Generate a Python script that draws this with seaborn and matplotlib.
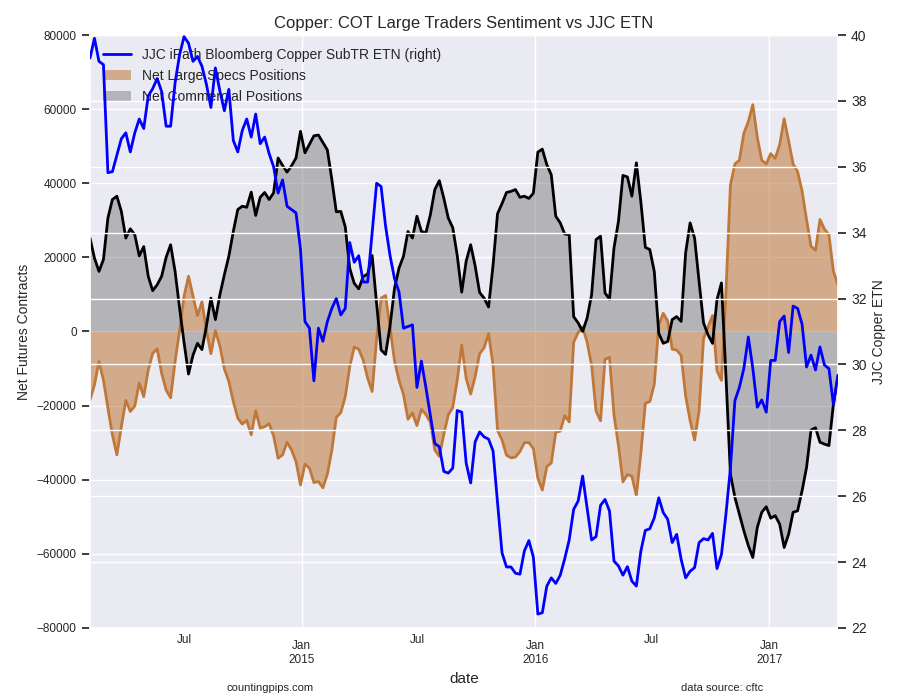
import pandas as pd
import numpy as np
import seaborn as sns
import matplotlib.pyplot as plt
import matplotlib.dates as mdates

# weekly COT reports (tuesdays)
dates = pd.date_range('2014-02-04', periods=168, freq='7D')

# net large speculator positions
specs = [
    -18500, -14400, -8100, -13100, -20700, -27900, -33300, -25700, -18600, -21600,
    -20100, -13900, -17600, -10400, -5900, -4700, -11300, -15800, -17900, -8100,
    200, 9500, 14900, 9500, 4300, 8000, 200, -6000, 200, -3900,
    -10100, -13500, -18900, -23400, -25000, -24000, -27900, -21400, -26100, -25700,
    -24900, -28200, -34200, -33300, -29900, -32000, -35100, -41400, -35800, -36900,
    -40800, -40500, -42200, -38500, -32000, -23200, -21900, -17600, -9500, -4200,
    -4800, -7700, -12600, -16200, -2000, 9000, 9700, 1000, -8000, -13200,
    -17000, -23700, -22000, -25400, -21000, -22400, -24500, -32000, -33700, -27800,
    -22500, -20500, -13200, -3700, -12700, -16900, -12200, -6000, -4400, -600,
    -9100, -26700, -29300, -33400, -34100, -33900, -32400, -30000, -30000, -31600,
    -39600, -42800, -36500, -35500, -27200, -26900, -22700, -24400, -2900, -300,
    1200, -2900, -9100, -21500, -24100, -7500, -7000, -22500, -30800, -40600,
    -38600, -39100, -44300, -32900, -19400, -18900, -14300, 1800, 4900, 2800,
    -4800, -5000, -6500, -17400, -24000, -29300, -21500, -1900, 1200, 4300,
    -10600, -13200, 10500, 39500, 45200, 46200, 53500, 56600, 61200, 52400,
    46200, 45200, 48000, 46700, 50400, 57400, 51400, 45200, 43100, 37900,
    30200, 23000, 21900, 30200, 27600, 26100, 16200, 12600,
]

# net commercial positions
commercials = [
    25200, 19800, 16200, 19400, 30600, 35600, 36500, 32400, 25200, 27700,
    26100, 20400, 22900, 14900, 11000, 12600, 14900, 20000, 23400, 16200,
    6300, -3000, -11500, -6400, -3200, -4900, 1500, 9000, 3200, 9900,
    15300, 20300, 27000, 32900, 33800, 33500, 37600, 31300, 36200, 37500,
    35600, 37400, 46800, 44800, 43000, 44700, 46800, 54000, 48200, 50500,
    52800, 53000, 51000, 49000, 41000, 32300, 32400, 28200, 17000, 13000,
    11500, 14800, 15500, 20500, 7500, -5000, -6200, 1500, 11700, 17100,
    20300, 27000, 25200, 31100, 27000, 26600, 31500, 38300, 40700, 36000,
    30600, 28000, 20500, 10600, 19000, 23400, 17700, 10500, 9000, 6600,
    17900, 31800, 34500, 37500, 37800, 38300, 36200, 36500, 35900, 37300,
    48400, 49200, 45000, 42300, 31100, 29300, 26300, 26100, 4000, 2300,
    0, 3600, 9900, 24800, 25700, 10400, 8700, 22500, 29700, 42100,
    41700, 36500, 45500, 35000, 22700, 22100, 16200, -500, -3200, -2700,
    3200, 4000, 2700, 21200, 29300, 25200, 13500, 2300, -900, -3200,
    8600, 13100, -12000, -38500, -44800, -49300, -53800, -57800, -61000, -52900,
    -48800, -47300, -50400, -49700, -52000, -58300, -54700, -48800, -48400, -43000,
    -36700, -26600, -26000, -29900, -30400, -30800, -19600, -12300,
]

# JJC iPath Bloomberg Copper SubTR ETN close
jjc = [
    39.3, 39.9, 39.2, 39.1, 35.82, 35.85, 36.35, 36.85, 37.03, 36.45,
    37.03, 37.45, 37.16, 38.15, 38.37, 38.68, 38.28, 37.23, 37.23, 38.55,
    39.4, 39.95, 39.75, 39.2, 39.35, 39.05, 38.5, 37.8, 39.0, 38.3,
    37.7, 38.35, 36.8, 36.45, 37.1, 37.45, 36.9, 37.6, 36.7, 36.9,
    36.4, 36.0, 35.2, 35.6, 34.8, 34.7, 34.6, 33.5, 31.3, 31.1,
    29.5, 31.1, 30.7, 31.3, 31.7, 32.0, 31.5, 31.7, 33.7, 33.1,
    33.3, 32.5, 32.5, 34.0, 35.5, 35.4, 34.2, 33.3, 32.6, 32.2,
    31.1, 31.15, 31.2, 29.3, 30.1, 29.3, 28.45, 27.6, 27.5, 26.75,
    26.7, 26.85, 28.6, 28.55, 27.0, 26.4, 27.65, 27.95, 27.8, 27.73,
    27.37, 25.8, 24.28, 23.85, 23.85, 23.66, 23.63, 24.34, 24.65, 24.15,
    22.42, 22.46, 23.27, 23.52, 23.35, 23.6, 24.1, 24.67, 25.6, 25.85,
    26.61, 25.65, 24.67, 24.77, 25.72, 25.9, 25.55, 24.03, 23.88, 23.6,
    23.86, 23.42, 23.27, 24.33, 24.96, 25.01, 25.34, 25.95, 25.5, 25.3,
    24.59, 24.84, 24.08, 23.52, 23.72, 23.83, 24.59, 24.71, 24.67, 24.87,
    23.8, 24.23, 25.45, 26.85, 28.9, 29.3, 29.88, 30.83, 29.88, 28.7,
    28.92, 28.55, 30.12, 30.12, 31.3, 31.47, 30.36, 31.77, 31.7, 31.22,
    29.92, 30.28, 29.83, 30.53, 29.98, 29.87, 28.78, 29.67,
]

left_ticks = list(range(-80000, 80001, 20000))
right_ticks = list(range(22, 41, 2))

df = pd.DataFrame({'date': dates, 'specs': specs, 'comm': commercials, 'jjc': jjc})

sns.set_theme(style='darkgrid')
plt.rcParams['font.family'] = ['Liberation Sans', 'DejaVu Sans']
plt.rcParams['text.color'] = '.15'
plt.rcParams['axes.labelcolor'] = '.15'

spec_col = '#BF7839'

fig = plt.figure(figsize=(9, 7), dpi=100)
ax = fig.add_axes([0.1, 0.103, 0.831, 0.847])

ax.fill_between(df['date'], 0, df['specs'], color=spec_col, alpha=0.55, linewidth=0,
                label='Net Large Specs Positions')
ax.fill_between(df['date'], 0, df['comm'], color='gray', alpha=0.5, linewidth=0,
                label='Net Commercial Positions')
sns.lineplot(data=df, x='date', y='specs', ax=ax, color=spec_col, linewidth=2, legend=False)
sns.lineplot(data=df, x='date', y='comm', ax=ax, color='black', linewidth=2, legend=False)

ax.set_ylim(-80000, 80000)
ax.set_yticks(left_ticks)
ax.set_xlim(df['date'].iloc[0], df['date'].iloc[-1])
ax.set_ylabel('Net Futures Contracts', fontsize=10)
ax.set_xlabel('date', fontsize=11, labelpad=5)
ax.set_title('Copper: COT Large Traders Sentiment vs JJC ETN', fontsize=12, pad=5)

ax.xaxis.set_major_locator(mdates.YearLocator())
ax.xaxis.set_major_formatter(mdates.DateFormatter('Jan\n%Y'))
ax.xaxis.set_minor_locator(mdates.MonthLocator(bymonth=7))
ax.xaxis.set_minor_formatter(mdates.DateFormatter('%b'))
ax.tick_params(axis='x', which='major', labelsize=8.5, pad=2.5)
ax.tick_params(axis='x', which='minor', labelsize=8.5, pad=0.5)
ax.tick_params(axis='y', labelsize=8.5)
ax.grid(which='minor', visible=False)

ax2 = ax.twinx()
line, = ax2.plot(df['date'], df['jjc'], color='blue', linewidth=2,
                 label='JJC iPath Bloomberg Copper SubTR ETN (right)')
ax2.set_ylim(22, 40)
ax2.set_yticks(right_ticks)
ax2.set_ylabel('JJC Copper ETN', fontsize=10)
ax2.tick_params(axis='y', labelsize=10)
ax2.grid(True, color='white', linewidth=1)
ax2.grid(which='minor', visible=False)
for s in ax2.spines.values():
    s.set_visible(False)

handles, labels = ax.get_legend_handles_labels()
ax.legend([line] + handles, [line.get_label()] + labels, loc='upper left',
          frameon=False, fontsize=10, borderaxespad=0.55)

fig.text(0.3, 0.013, 'countingpips.com', ha='center', fontsize=8)
fig.text(0.802, 0.013, 'data source: cftc', ha='center', fontsize=8)

fig.savefig('out.png', dpi=100)
